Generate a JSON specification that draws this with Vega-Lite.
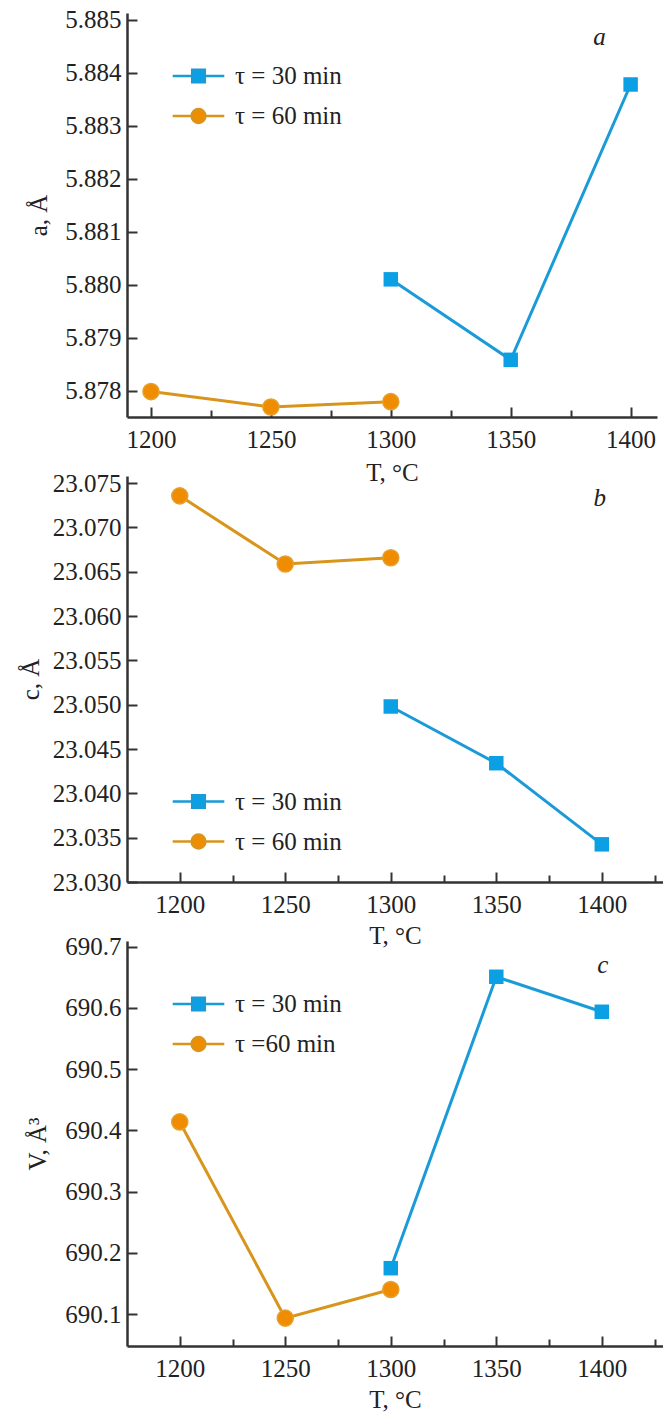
{
  "$schema": "https://vega.github.io/schema/vega-lite/v6.json",
  "background": "white",
  "padding": {"left": 18, "top": 7, "right": 0, "bottom": 0},
  "spacing": 59,
  "bounds": "flush",
  "config": {
    "view": {"stroke": null},
    "font": "Liberation Serif",
    "axis": {
      "labelFont": "Liberation Serif",
      "labelFontSize": 25,
      "labelColor": "#222222",
      "titleFont": "Liberation Serif",
      "titleFontSize": 25,
      "titleFontWeight": "normal",
      "titleColor": "#222222",
      "domainColor": "#333333",
      "domainWidth": 2.5,
      "tickColor": "#333333",
      "tickWidth": 2,
      "grid": false,
      "labelOverlap": false,
      "labelFlush": false
    },
    "legend": {
      "labelFont": "Liberation Serif",
      "labelFontSize": 25,
      "labelColor": "#222222"
    }
  },
  "resolve": {
    "scale": {"x": "independent", "y": "independent", "color": "independent"},
    "legend": {"color": "independent"}
  },
  "vconcat": [
    {
      "width": 530,
      "height": 404,
      "data": {"values": [
        {"T": 1300, "v": 5.8801, "s": "τ = 30 min"},
        {"T": 1350, "v": 5.87858, "s": "τ = 30 min"},
        {"T": 1400, "v": 5.88378, "s": "τ = 30 min"},
        {"T": 1200, "v": 5.87798, "s": "τ = 60 min"},
        {"T": 1250, "v": 5.87769, "s": "τ = 60 min"},
        {"T": 1300, "v": 5.87779, "s": "τ = 60 min"}
      ]},
      "layer": [
        {
          "mark": {"type": "line", "strokeWidth": 3},
          "encoding": {
            "x": {"field": "T", "type": "quantitative",
              "scale": {"domain": [1190, 1411], "nice": false, "zero": false},
              "axis": {"title": "T, °C", "values": [1200, 1225, 1250, 1275, 1300, 1325, 1350, 1375, 1400], "format": "d",
                "labelExpr": "datum.value % 50 === 0 ? datum.label : ''",
                "tickSize": {"condition": {"test": "datum.value % 50 === 0", "value": -10}, "value": -7},
                "labelPadding": 20, "titleY": 55, "titleBaseline": "middle"}},
            "y": {"field": "v", "type": "quantitative",
              "scale": {"domain": [5.8775, 5.88513], "nice": false, "zero": false},
              "axis": {"title": "a, Å", "values": [5.878, 5.8785, 5.879, 5.8795, 5.88, 5.8805, 5.881, 5.8815, 5.882, 5.8825, 5.883, 5.8835, 5.884, 5.8845, 5.885], "format": ".3f",
                "labelExpr": "abs(datum.value * 1000 - round(datum.value * 1000)) < 0.000001 ? datum.label : ''",
                "tickSize": {"condition": {"test": "abs(datum.value * 1000 - round(datum.value * 1000)) < 0.000001", "value": -10}, "value": -7},
                "labelPadding": 16, "titleX": -88.6, "titleY": 202, "titleBaseline": "middle", "titleAngle": -90}},
            "color": {"field": "s", "type": "nominal",
              "scale": {"domain": ["τ = 30 min", "τ = 60 min"], "range": ["#1a9bd8", "#d8951c"]},
              "legend": {"title": null, "orient": "none", "legendX": 59, "legendY": 50.5, "direction": "vertical", "padding": 0, "rowPadding": 14, "labelOffset": 24, "symbolSize": 144, "labelLimit": 0,
                "encode": {"symbols": {"update": {
                  "shape": {"signal": "datum.index === 0 ? 'M-4.3,0H-1.05M1.05,0H4.3M-1.05,-1.05H1.05V1.05H-1.05Z' : 'M-4.3,0H-1.15M1.15,0H4.3M-1.15,0A1.15,1.15 0 1,0 1.15,0A1.15,1.15 0 1,0 -1.15,0Z'"},
                  "fill": {"signal": "datum.index === 0 ? '#0ba0e4' : '#f08c00'"},
                  "strokeWidth": {"value": 2.5},
                  "size": {"value": 144},
                  "opacity": {"value": 1}
                }}}}}
          }
        },
        {
          "transform": [{"filter": "datum.s === 'τ = 30 min'"}],
          "mark": {"type": "point", "shape": "square", "filled": true, "color": "#0ba0e4", "size": 210, "opacity": 1},
          "encoding": {"x": {"field": "T", "type": "quantitative"}, "y": {"field": "v", "type": "quantitative"}}
        },
        {
          "transform": [{"filter": "datum.s !== 'τ = 30 min'"}],
          "mark": {"type": "point", "shape": "circle", "filled": true, "fill": "#f08c00", "stroke": "#e6a030", "strokeWidth": 1.5, "size": 260, "opacity": 1},
          "encoding": {"x": {"field": "T", "type": "quantitative"}, "y": {"field": "v", "type": "quantitative"}}
        },
        {
          "data": {"values": [{"k": "a"}]},
          "mark": {"type": "text", "font": "Liberation Serif", "fontSize": 25, "fontStyle": "italic", "color": "#222222", "align": "center", "baseline": "middle"},
          "encoding": {
            "x": {"datum": 1387, "type": "quantitative"},
            "y": {"datum": 5.88468, "type": "quantitative"},
            "text": {"field": "k", "type": "nominal"}
          }
        }
      ]
    },
    {
      "width": 536,
      "height": 406,
      "data": {"values": [
        {"T": 1300, "v": 23.0498, "s": "τ = 30 min"},
        {"T": 1350, "v": 23.0434, "s": "τ = 30 min"},
        {"T": 1400, "v": 23.03425, "s": "τ = 30 min"},
        {"T": 1200, "v": 23.07356, "s": "τ = 60 min"},
        {"T": 1250, "v": 23.06587, "s": "τ = 60 min"},
        {"T": 1300, "v": 23.06658, "s": "τ = 60 min"}
      ]},
      "layer": [
        {
          "mark": {"type": "line", "strokeWidth": 3},
          "encoding": {
            "x": {"field": "T", "type": "quantitative",
              "scale": {"domain": [1175, 1429], "nice": false, "zero": false},
              "axis": {"title": "T, °C", "values": [1200, 1225, 1250, 1275, 1300, 1325, 1350, 1375, 1400, 1425], "format": "d",
                "labelExpr": "datum.value % 50 === 0 ? datum.label : ''",
                "tickSize": {"condition": {"test": "datum.value % 50 === 0", "value": -10}, "value": -7},
                "labelPadding": 20, "titleY": 53, "titleBaseline": "middle"}},
            "y": {"field": "v", "type": "quantitative",
              "scale": {"domain": [23.03, 23.0758], "nice": false, "zero": false},
              "axis": {"title": "c, Å", "values": [23.03, 23.0325, 23.035, 23.0375, 23.04, 23.0425, 23.045, 23.0475, 23.05, 23.0525, 23.055, 23.0575, 23.06, 23.0625, 23.065, 23.0675, 23.07, 23.0725, 23.075], "format": ".3f",
                "labelExpr": "abs(datum.value * 200 - round(datum.value * 200)) < 0.000001 ? datum.label : ''",
                "tickSize": {"condition": {"test": "abs(datum.value * 200 - round(datum.value * 200)) < 0.000001", "value": -10}, "value": -7},
                "labelPadding": 16, "titleX": -96.6, "titleY": 203, "titleBaseline": "middle", "titleAngle": -90}},
            "color": {"field": "s", "type": "nominal",
              "scale": {"domain": ["τ = 30 min", "τ = 60 min"], "range": ["#1a9bd8", "#d8951c"]},
              "legend": {"title": null, "orient": "none", "legendX": 59, "legendY": 313, "direction": "vertical", "padding": 0, "rowPadding": 14, "labelOffset": 24, "symbolSize": 144, "labelLimit": 0,
                "encode": {"symbols": {"update": {
                  "shape": {"signal": "datum.index === 0 ? 'M-4.3,0H-1.05M1.05,0H4.3M-1.05,-1.05H1.05V1.05H-1.05Z' : 'M-4.3,0H-1.15M1.15,0H4.3M-1.15,0A1.15,1.15 0 1,0 1.15,0A1.15,1.15 0 1,0 -1.15,0Z'"},
                  "fill": {"signal": "datum.index === 0 ? '#0ba0e4' : '#f08c00'"},
                  "strokeWidth": {"value": 2.5},
                  "size": {"value": 144},
                  "opacity": {"value": 1}
                }}}}}
          }
        },
        {
          "transform": [{"filter": "datum.s === 'τ = 30 min'"}],
          "mark": {"type": "point", "shape": "square", "filled": true, "color": "#0ba0e4", "size": 210, "opacity": 1},
          "encoding": {"x": {"field": "T", "type": "quantitative"}, "y": {"field": "v", "type": "quantitative"}}
        },
        {
          "transform": [{"filter": "datum.s !== 'τ = 30 min'"}],
          "mark": {"type": "point", "shape": "circle", "filled": true, "fill": "#f08c00", "stroke": "#e6a030", "strokeWidth": 1.5, "size": 260, "opacity": 1},
          "encoding": {"x": {"field": "T", "type": "quantitative"}, "y": {"field": "v", "type": "quantitative"}}
        },
        {
          "data": {"values": [{"k": "b"}]},
          "mark": {"type": "text", "font": "Liberation Serif", "fontSize": 25, "fontStyle": "italic", "color": "#222222", "align": "center", "baseline": "middle"},
          "encoding": {
            "x": {"datum": 1399, "type": "quantitative"},
            "y": {"datum": 23.07331, "type": "quantitative"},
            "text": {"field": "k", "type": "nominal"}
          }
        }
      ]
    },
    {
      "width": 536,
      "height": 405,
      "data": {"values": [
        {"T": 1300, "v": 690.175, "s": "τ = 30 min"},
        {"T": 1350, "v": 690.6506, "s": "τ = 30 min"},
        {"T": 1400, "v": 690.5935, "s": "τ = 30 min"},
        {"T": 1200, "v": 690.4137, "s": "τ =60 min"},
        {"T": 1250, "v": 690.0935, "s": "τ =60 min"},
        {"T": 1300, "v": 690.1403, "s": "τ =60 min"}
      ]},
      "layer": [
        {
          "mark": {"type": "line", "strokeWidth": 3},
          "encoding": {
            "x": {"field": "T", "type": "quantitative",
              "scale": {"domain": [1175, 1429], "nice": false, "zero": false},
              "axis": {"title": "T, °C", "values": [1200, 1225, 1250, 1275, 1300, 1325, 1350, 1375, 1400, 1425], "format": "d",
                "labelExpr": "datum.value % 50 === 0 ? datum.label : ''",
                "tickSize": {"condition": {"test": "datum.value % 50 === 0", "value": -10}, "value": -7},
                "labelPadding": 20, "titleY": 53, "titleBaseline": "middle"}},
            "y": {"field": "v", "type": "quantitative",
              "scale": {"domain": [690.048, 690.709], "nice": false, "zero": false},
              "axis": {"title": "V, Å³", "values": [690.1, 690.15, 690.2, 690.25, 690.3, 690.35, 690.4, 690.45, 690.5, 690.55, 690.6, 690.65, 690.7], "format": ".1f",
                "labelExpr": "abs(datum.value * 10 - round(datum.value * 10)) < 0.000001 ? datum.label : ''",
                "tickSize": {"condition": {"test": "abs(datum.value * 10 - round(datum.value * 10)) < 0.000001", "value": -10}, "value": -7},
                "labelPadding": 16, "titleX": -89.6, "titleY": 202.5, "titleBaseline": "middle", "titleAngle": -90}},
            "color": {"field": "s", "type": "nominal",
              "scale": {"domain": ["τ = 30 min", "τ =60 min"], "range": ["#1a9bd8", "#d8951c"]},
              "legend": {"title": null, "orient": "none", "legendX": 59, "legendY": 50.5, "direction": "vertical", "padding": 0, "rowPadding": 14, "labelOffset": 24, "symbolSize": 144, "labelLimit": 0,
                "encode": {"symbols": {"update": {
                  "shape": {"signal": "datum.index === 0 ? 'M-4.3,0H-1.05M1.05,0H4.3M-1.05,-1.05H1.05V1.05H-1.05Z' : 'M-4.3,0H-1.15M1.15,0H4.3M-1.15,0A1.15,1.15 0 1,0 1.15,0A1.15,1.15 0 1,0 -1.15,0Z'"},
                  "fill": {"signal": "datum.index === 0 ? '#0ba0e4' : '#f08c00'"},
                  "strokeWidth": {"value": 2.5},
                  "size": {"value": 144},
                  "opacity": {"value": 1}
                }}}}}
          }
        },
        {
          "transform": [{"filter": "datum.s === 'τ = 30 min'"}],
          "mark": {"type": "point", "shape": "square", "filled": true, "color": "#0ba0e4", "size": 210, "opacity": 1},
          "encoding": {"x": {"field": "T", "type": "quantitative"}, "y": {"field": "v", "type": "quantitative"}}
        },
        {
          "transform": [{"filter": "datum.s !== 'τ = 30 min'"}],
          "mark": {"type": "point", "shape": "circle", "filled": true, "fill": "#f08c00", "stroke": "#e6a030", "strokeWidth": 1.5, "size": 260, "opacity": 1},
          "encoding": {"x": {"field": "T", "type": "quantitative"}, "y": {"field": "v", "type": "quantitative"}}
        },
        {
          "data": {"values": [{"k": "c"}]},
          "mark": {"type": "text", "font": "Liberation Serif", "fontSize": 25, "fontStyle": "italic", "color": "#222222", "align": "center", "baseline": "middle"},
          "encoding": {
            "x": {"datum": 1400.5, "type": "quantitative"},
            "y": {"datum": 690.67, "type": "quantitative"},
            "text": {"field": "k", "type": "nominal"}
          }
        }
      ]
    }
  ]
}
